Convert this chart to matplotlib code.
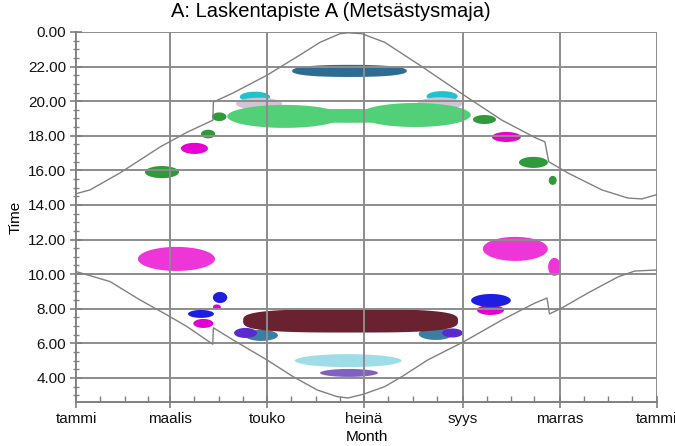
import numpy as np
import matplotlib
matplotlib.use("Agg")
import matplotlib.pyplot as plt
from matplotlib.ticker import FixedLocator, FuncFormatter, MultipleLocator

plt.rcParams["font.family"] = ["Liberation Sans", "DejaVu Sans"]

# month axis (day of year)
month_days = [0, 59, 120, 181, 243, 304, 365]
month_labels = ["tammi", "maalis", "touko", "heinä", "syys", "marras", "tammi"]
minor_days = [15, 31, 45, 74, 90, 105, 135, 151, 166, 196, 212, 227,
              258, 273, 288, 319, 334, 349]

# sunset curve (hour), includes the summer time jumps
sunset_day = [0, 8.8, 27.6, 52.8, 69.7, 86, 86.3, 98.6, 120, 140.7, 153.3,
              165.8, 170.9, 179.6, 194, 217.3, 243.7, 267.6, 288.3, 294.6,
              297, 309, 330.4, 346.7, 355.5, 365]
sunset_hour = [14.65, 14.87, 15.85, 17.35, 18.2, 18.9, 19.95, 20.47, 21.5,
               22.67, 23.4, 23.9, 23.95, 23.9, 23.4, 22.0, 20.35, 18.9, 17.9,
               17.65, 16.5, 15.85, 14.87, 14.4, 14.35, 14.6]

# sunrise curve (hour)
sunrise_day = [0, 21.4, 40.2, 57.2, 69.7, 85.9, 86.3, 98.6, 120, 136.3, 151.4,
               164, 170.9, 181, 194, 204.8, 221, 243.7, 267.6, 288.3, 295.9,
               297.5, 305.3, 321.6, 340.5, 351, 365]
sunrise_hour = [10.15, 9.57, 8.51, 7.64, 6.97, 5.95, 6.9, 6.2, 5.04, 4.08,
                3.31, 2.92, 2.84, 3.07, 3.5, 4.08, 5.04, 6.1, 7.35, 8.33, 8.62,
                7.7, 8.05, 8.91, 9.84, 10.18, 10.24]

# activity blobs: centre day, centre hour, extent in days, extent in hours
blob_day = [112.4, 230, 115, 228.6, 131, 213, 172, 171.8,
            90, 83, 256.6, 270.4, 287.4, 299.5, 54, 74.4,
            63.1, 276, 300.6,
            90.5, 88.5, 80, 78.5, 260.4, 260.7,
            116.5, 226, 172.5, 106.5, 236.5, 171, 171.5]
blob_hour = [20.25, 20.28, 19.85, 19.85, 19.12, 19.2, 19.15, 21.75,
             19.1, 18.1, 18.94, 17.93, 16.46, 15.42, 15.9, 17.27,
             10.88, 11.46, 10.42,
             8.65, 8.1, 7.15, 7.7, 7.93, 8.48,
             6.46, 6.54, 7.3, 6.6, 6.6, 5.0, 4.29]
blob_span = [19, 19.5, 29, 28, 72, 70, 113, 72,
             9, 9, 14.5, 18.2, 18.2, 5, 21.4, 17,
             48.4, 40.8, 8,
             9, 5, 12.6, 16.3, 17, 25,
             20.7, 21.4, 135, 14.4, 13, 67, 36.4]
blob_height = [0.6, 0.6, 0.7, 0.75, 1.33, 1.39, 0.8, 0.7,
               0.5, 0.5, 0.52, 0.58, 0.64, 0.52, 0.7, 0.64,
               1.39, 1.39, 1.04,
               0.64, 0.3, 0.52, 0.46, 0.58, 0.75,
               0.64, 0.69, 1.35, 0.58, 0.52, 0.75, 0.46]
blob_shape = [2, 2, 2, 2, 2, 2, 2, 2.4,
              2, 2, 2, 2, 2, 2, 2, 2,
              2, 2, 2,
              2, 2, 2, 2, 2, 2,
              2, 2, 3.2, 2, 2, 2, 2]
blob_color = ["#22c2cc", "#22c2cc", "#d2c4d4", "#d2c4d4",
              "#52d078", "#52d078", "#52d078", "#2f6c94",
              "#2e9a3a", "#2e9a3a", "#2e9a3a", "#e800d0", "#2e9a3a",
              "#2e9a3a", "#2e9a3a", "#e800d0",
              "#ee35d8", "#ee35d8", "#ee35d8",
              "#1e1ee0", "#e800d0", "#e000d0", "#1e1ee0", "#e000d0", "#1e1ee0",
              "#3a7fa3", "#3a7fa3", "#6a2230", "#5a2ad0", "#5a2ad0",
              "#9edce8", "#8060c0"]

fig = plt.figure(figsize=(6.75, 4.46), dpi=100)
ax = fig.add_axes([0.1126, 0.0987, 0.8607, 0.8296])

t = np.linspace(0, 2 * np.pi, 200)
for d, h, w, ht, p, c in zip(blob_day, blob_hour, blob_span, blob_height,
                             blob_shape, blob_color):
    ct, st = np.cos(t), np.sin(t)
    xs = d + w / 2 * np.sign(ct) * np.abs(ct) ** (2 / p)
    ys = h + ht / 2 * np.sign(st) * np.abs(st) ** (2 / p)
    ax.fill(xs, ys, color=c, lw=0, zorder=1)

ax.plot(sunset_day, sunset_hour, color="#808080", lw=1, zorder=3)
ax.plot(sunrise_day, sunrise_hour, color="#808080", lw=1, zorder=3)

ax.set_xlim(0, 365)
ax.set_ylim(2.61, 24)

ax.xaxis.set_major_locator(FixedLocator(month_days))
ax.set_xticklabels(month_labels)
ax.xaxis.set_minor_locator(FixedLocator(minor_days))
ax.yaxis.set_major_locator(MultipleLocator(2))
ax.yaxis.set_minor_locator(MultipleLocator(0.5))
ax.yaxis.set_major_formatter(FuncFormatter(lambda v, pos: f"{v % 24:.2f}"))

ax.grid(True, which="major", color="#8c8c8c", lw=1.4)
ax.set_axisbelow(False)

for s in ["top", "right"]:
    ax.spines[s].set_visible(False)
for s in ["left", "bottom"]:
    ax.spines[s].set_color("#808080")
    ax.spines[s].set_linewidth(1.4)

ax.tick_params(which="major", direction="inout", length=8, width=1.2,
               color="#808080", labelsize=11, labelcolor="#111111", pad=3)
ax.tick_params(axis="x", which="minor", direction="in", length=4, width=1,
               color="#808080")
ax.tick_params(axis="y", which="minor", direction="inout", length=4, width=1,
               color="#808080")

fig.suptitle("A: Laskentapiste A (Metsästysmaja)", x=0.49, y=0.995,
             fontsize=14.5, va="top")
ax.set_xlabel("Month", fontsize=11, labelpad=3)
ax.set_ylabel("Time", fontsize=11, labelpad=4)

fig.savefig("out.png", dpi=100)
